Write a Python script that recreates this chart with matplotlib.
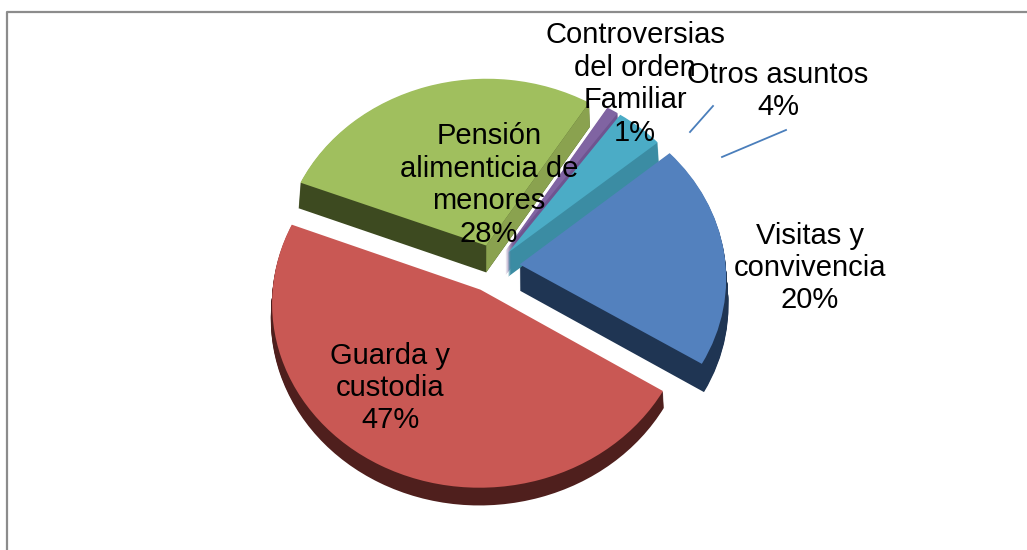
import numpy as np
import matplotlib
matplotlib.use('Agg')
import matplotlib.pyplot as plt
from matplotlib.patches import Polygon
from matplotlib.transforms import Transform

plt.rcParams['font.family'] = ['Liberation Sans', 'DejaVu Sans']

# data, clockwise from the blue slice
labels = ['Visitas y\nconvivencia\n20%', 'Guarda y\ncustodia\n47%',
          'Pensión\nalimenticia de\nmenores\n28%', 'Controversias\ndel orden\nFamiliar\n1%',
          'Otros asuntos\n4%']
values = [20, 47, 28, 1, 4]
top_colors = ['#5381be', '#c95854', '#a0bf5e', '#8064a2', '#4bacc6']
side_colors = ['#1f3553', '#4f1f1d', '#3d4a20', '#6f5490', '#3b8ca3']
explode = [0.125, 0.145, 0.12, 0.10, 0.10]
depths = [26, 15, 27, 24, 24]

# pie geometry in pixels
cx, cy = 494, 266
rx = 206
ry = 181
persp = 0.0688


# back of the pie is smaller than the front
class Persp(Transform):
    input_dims = 2
    output_dims = 2

    def transform_non_affine(self, xy):
        xy = np.asarray(xy)
        w = 1 + persp * xy[:, 1]
        return np.column_stack([xy[:, 0] / w, xy[:, 1] / w])


fig = plt.figure(figsize=(10.27, 5.5), dpi=100)
ax = fig.add_axes([0, 0, 1, 1])


def slice_colors(i, c):
    return [c if j == i else 'none' for j in range(len(values))]


# sides first, one stack of layers per slice
for i in range(len(values)):
    for d in range(depths[i], 0, -1):
        ax.pie(values, explode=explode, colors=slice_colors(i, side_colors[i]), startangle=40,
               counterclock=False, center=(0, -d / ry), wedgeprops={'linewidth': 0})

wedges, _ = ax.pie(values, explode=explode, colors=top_colors, startangle=40, counterclock=False,
                   wedgeprops={'linewidth': 0})
for w in wedges:
    w.set_zorder(2)

# the cut face of the green slice towards the teal one is lighter than its wall
w = wedges[2]
x0, y0 = w.center
tip = (x0 + w.r * np.cos(np.radians(w.theta1)), y0 + w.r * np.sin(np.radians(w.theta1)))
drop = depths[2] / ry
face = Polygon([(x0, y0), tip, (tip[0], tip[1] - drop), (x0, y0 - drop)], closed=True,
               facecolor='#8aa24f', linewidth=0, zorder=1.5)
ax.add_patch(face)

ax.set_aspect('auto')
ax.set_xlim(-cx / rx, (1027 - cx) / rx)
ax.set_ylim((cy - 550) / ry, cy / ry)
ax.axis('off')
for p in ax.patches:
    p.set_transform(Persp() + ax.transData)

# overlay in pixel coordinates for frame, text and leader lines
ov = fig.add_axes([0, 0, 1, 1])
ov.set_xlim(0, 1027)
ov.set_ylim(550, 0)
ov.axis('off')
ov.patch.set_alpha(0)

ov.plot([7, 7, 1027], [550, 12, 12], color='#8c8c8c', lw=1.6)
ov.plot([713, 690], [106, 132], color='#4a7ebb', lw=1.3)
ov.plot([786, 722], [130, 157], color='#4a7ebb', lw=1.3)

label_pos = [(810, 268), (390, 388), (489, 185), (635, 84), (778, 91)]
for t, (x, y) in zip(labels, label_pos):
    ov.text(x, y, t, ha='center', va='center', fontsize=21, color='black', linespacing=1.2)

fig.savefig('out.png', dpi=100)
